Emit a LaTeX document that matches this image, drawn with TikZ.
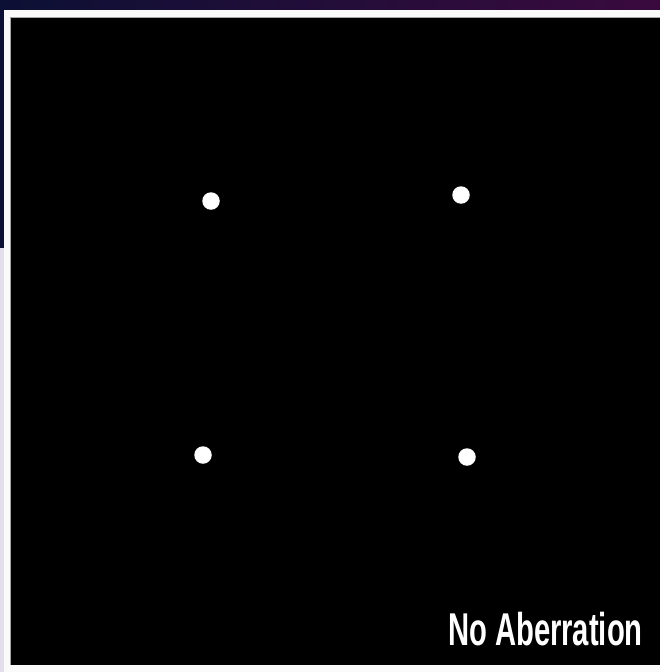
\documentclass[tikz,border=0pt]{standalone}
\usepackage{fontspec}
\setmainfont{Liberation Sans}
\usetikzlibrary{positioning}
\definecolor{bgnavy}{HTML}{0C1034}
\definecolor{bgpurple}{HTML}{3A0A3E}
\definecolor{framewhite}{HTML}{FAFAFA}
\definecolor{lavender}{HTML}{E4DDEC}
\tikzset{
  spot/.style={circle, fill=white, draw=none, inner sep=0pt, minimum size=17.5pt},
  label text/.style={text=white, inner sep=0pt, font=\bfseries\fontsize{46}{46}\selectfont}
}
\begin{document}
\begin{tikzpicture}[x=1pt,y=-1pt]
\useasboundingbox (0,0) rectangle (660,672);
% background
\shade[left color=bgnavy, right color=bgpurple] (0,0) rectangle (660,11);
\fill[bgnavy] (0,0) rectangle (3.5,248);
\fill[lavender] (0,248) rectangle (3.5,672);
% white frame
\fill[framewhite] (3.5,10) rectangle (660,672);
% black panel
\fill[black] (10.5,17) rectangle (660,664.5);
\draw[gray!70, line width=0.8pt] (10.5,664.5) -- (10.5,17) -- (660,17);
% spots
\node[spot] (s1) at (211,201) {};
\node[spot] (s2) at (461,195) {};
\node[spot] (s3) at (203,455) {};
\node[spot] (s4) at (467,457) {};
% caption
\node[label text, anchor=base east] (cap) at (643,645) {\scalebox{0.635}[1]{No Aberration}};
\end{tikzpicture}
\end{document}
